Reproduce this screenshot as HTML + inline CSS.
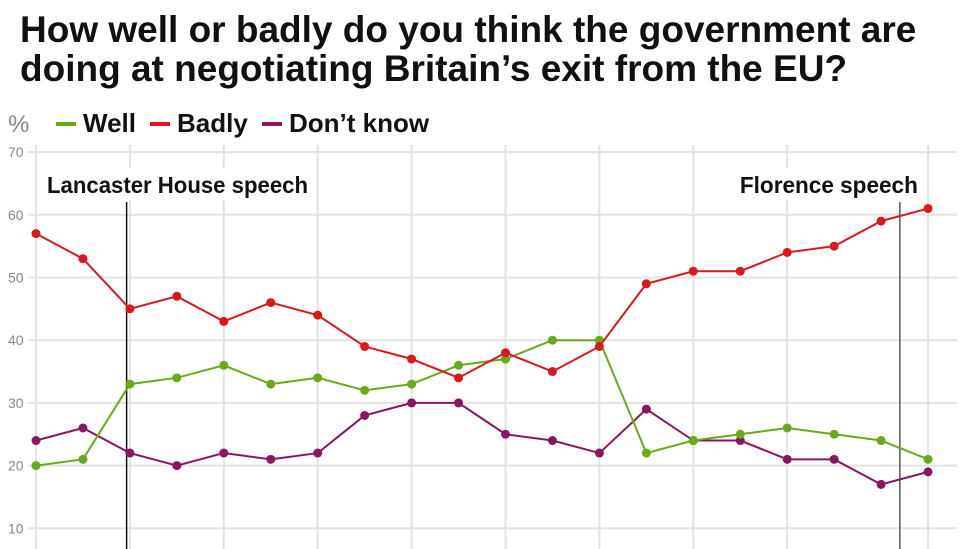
<!DOCTYPE html>
<html><head><meta charset="utf-8"><style>
body{margin:0;background:#fff;width:976px;height:549px;overflow:hidden;font-family:"Liberation Sans",sans-serif}
h1{position:absolute;left:20px;top:10px;margin:0;font-size:37px;line-height:39px;font-weight:bold;color:#111;white-space:nowrap}
</style></head><body>
<h1>How well or badly do you think the government are<br>doing at negotiating Britain’s exit from the EU?</h1>
<svg id="chart" width="976" height="549" style="position:absolute;left:0;top:0"></svg>
<script>
const categories=[0,1,2,3,4,5,6,7,8,9,10,11,12,13,14,15,16,17,18,19];
const well=[20,21,33,34,36,33,34,32,33,36,37,40,40,22,24,25,26,25,24,21];
const badly=[57,53,45,47,43,46,44,39,37,34,38,35,39,49,51,51,54,55,59,61];
const dontKnow=[24,26,22,20,22,21,22,28,30,30,25,24,22,29,24,24,21,21,17,19];
const yTicks=[10,20,30,40,50,60,70];
const gridIdx=[0,2,4,6,8,10,12,14,16,19];
const events=[{label:"Lancaster House speech",pos:1.93},{label:"Florence speech",pos:18.4}];
const NS="http://www.w3.org/2000/svg",svg=document.getElementById('chart');
const x=i=>36+i*46.95, y=v=>591-v*6.27;
function mk(t,a,p){const e=document.createElementNS(NS,t);for(const k in a)e.setAttribute(k,a[k]);(p||svg).appendChild(e);return e;}
yTicks.forEach(v=>{
 const l=mk('line',{x1:28,x2:957,y1:y(v),y2:y(v),stroke:'#e3e3e3','stroke-width':2});
 
 
 const t=mk('text',{x:8,y:y(v)+5,'font-size':14,fill:'#888'});t.textContent=v;
 
 
});
gridIdx.forEach(i=>{
 const l=mk('line',{x1:x(i),x2:x(i),y1:145,y2:549,stroke:'#e3e3e3','stroke-width':2});
 
 
});
const pct=mk('text',{x:8,y:132,'font-size':24,fill:'#888'});pct.textContent='%';


events.forEach((ev,k)=>{
 const ex=x(ev.pos);
 const l=mk('line',{x1:ex,x2:ex,y1:202,y2:549,stroke:k?'#555':'#111','stroke-width':1.5});
 
 
 const tx=k?ex-160:47;
 const bg=mk('rect',{x:tx-4,y:168,width:k?184:268,height:32,fill:'#fff'});
 
 
 const t=mk('text',{x:tx,y:193,'font-size':23,fill:'#111','font-weight':'bold','textLength':k?178:261,'lengthAdjust':'spacingAndGlyphs'});t.textContent=ev.label;
 
 
});
const series=[{n:'dont-know',d:dontKnow,c:'#8a1660'},{n:'well',d:well,c:'#6aaa1a'},{n:'badly',d:badly,c:'#d8191d'}];
series.forEach(s=>{
 const p=mk('polyline',{points:s.d.map((v,i)=>x(categories[i])+','+y(v)).join(' '),fill:'none',stroke:s.c,'stroke-width':2});
 
 
 s.d.forEach((v,i)=>{const c=mk('circle',{cx:x(categories[i]),cy:y(v),r:4.5,fill:s.c});
  
  });
});
const leg=[{t:'Well',c:'#6aaa1a',x:56},{t:'Badly',c:'#d8191d',x:150},{t:'Don’t know',c:'#8a1660',x:262}];
leg.forEach(L=>{
 const g=mk('g',{});
 
 
 mk('rect',{x:L.x,y:122,width:20,height:4,fill:L.c},g);
 const t=mk('text',{x:L.x+27,y:132,'font-size':26,'font-weight':'bold',fill:'#111'},g);t.textContent=L.t;
});
</script>
</body></html>
